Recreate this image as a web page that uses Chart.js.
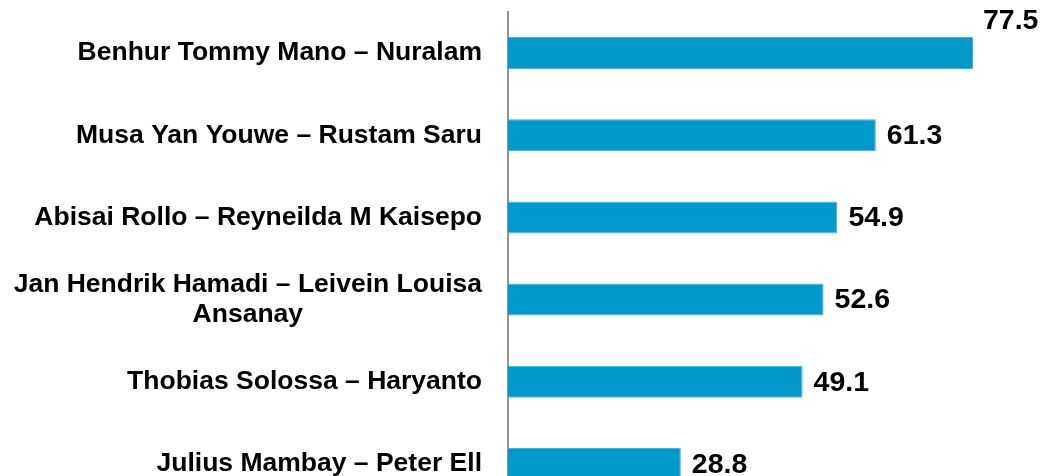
<!DOCTYPE html>
<html>
<head>
<meta charset="utf-8">
<script src="https://cdn.jsdelivr.net/npm/chart.js@4.4.1/dist/chart.umd.min.js"></script>
<style>
  html, body { margin: 0; padding: 0; background: #fff; overflow: hidden; }
  #wrap { width: 1045px; height: 476px; overflow: hidden; }
</style>
</head>
<body>
<div id="wrap"><canvas id="chartBars" width="1045" height="505"></canvas></div>
<script>
const pairs = [
    ["Benhur Tommy Mano – Nuralam"],
    ["Musa Yan Youwe – Rustam Saru"],
    ["Abisai Rollo – Reyneilda M Kaisepo"],
    ["Jan Hendrik Hamadi – Leivein Louisa", "Ansanay"],
    ["Thobias Solossa – Haryanto"],
    ["Julius Mambay – Peter Ell"]
];
const votes = [77.5, 61.3, 54.9, 52.6, 49.1, 28.8];

const FONT = '"Liberation Sans", Arial, sans-serif';

// category names on the left, right aligned block, lines centred inside it
const namesPlugin = {
    id: 'names',
    afterDraw(chart) {
        const ctx = chart.ctx;
        const yScale = chart.scales.y;
        const right = chart.chartArea.left - 26;
        ctx.save();
        ctx.font = 'bold 26.5px ' + FONT;
        ctx.fillStyle = '#000';
        ctx.textBaseline = 'middle';
        ctx.textAlign = 'center';
        pairs.forEach((lines, i) => {
            const cy = yScale.getPixelForValue(i);
            const w = Math.max(...lines.map(l => ctx.measureText(l).width));
            const cx = right - w / 2;
            const lh = 30;
            lines.forEach((line, j) => {
                const y = cy - (lines.length - 1) * lh / 2 + j * lh;
                ctx.fillText(line, cx, y);
            });
        });
        ctx.restore();
    }
};

// value labels at the end of each bar, the largest one sits above its bar
const valuePlugin = {
    id: 'values',
    afterDatasetsDraw(chart) {
        const ctx = chart.ctx;
        const meta = chart.getDatasetMeta(0);
        const top = Math.max(...votes);
        ctx.save();
        ctx.font = 'bold 28.5px ' + FONT;
        ctx.fillStyle = '#000';
        ctx.textAlign = 'left';
        ctx.textBaseline = 'middle';
        meta.data.forEach((bar, i) => {
            const txt = votes[i].toFixed(1);
            if (votes[i] === top) {
                ctx.fillText(txt, bar.x + 10, bar.y - bar.height / 2 - 16);
            } else {
                ctx.fillText(txt, bar.x + 11, bar.y + 1);
            }
        });
        ctx.restore();
    }
};

const ctx = document.getElementById('chartBars').getContext('2d');
new Chart(ctx, {
    type: 'bar',
    data: {
        labels: pairs,
        datasets: [{
            data: votes,
            backgroundColor: '#0099CC',
            borderColor: '#45B4DC',
            borderWidth: 1,
            borderSkipped: 'left',
            categoryPercentage: 1,
            barPercentage: 0.39
        }]
    },
    options: {
        indexAxis: 'y',
        responsive: false,
        animation: false,
        layout: { padding: { top: 12, right: 0, bottom: 0, left: 0 } },
        scales: {
            x: {
                display: false,
                min: 0,
                max: 89.5
            },
            y: {
                grid: { display: false },
                ticks: { display: false },
                border: { display: true, color: '#8A9696', width: 2 },
                afterFit(scale) { scale.width = 508; }
            }
        },
        plugins: {
            legend: { display: false },
            tooltip: { enabled: false }
        }
    },
    plugins: [namesPlugin, valuePlugin]
});
</script>
</body>
</html>
